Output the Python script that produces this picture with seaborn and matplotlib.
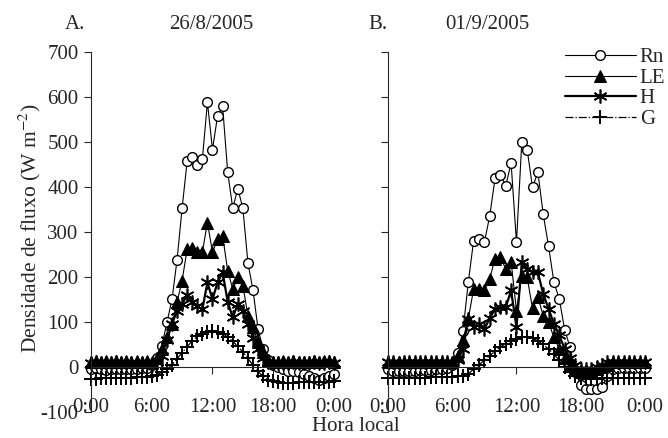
import numpy as np
import pandas as pd
import matplotlib
matplotlib.use("Agg")
import matplotlib.pyplot as plt
import seaborn as sns

# half-hourly time axis (hours)
hours = np.arange(0, 24.5, 0.5)
tick_hours = [0, 6, 12, 18, 24]
tick_labels = ["0:00", "6:00", "12:00", "18:00", "0:00"]

# A. 26/8/2005
rn_a = [-5, -3, -5, -6, -5, -4, -5, -5, -4, -5, -3, -2,
        5, 20, 47, 99, 150, 238, 353, 458, 466, 449, 462, 588, 483, 558, 579, 433, 353, 396, 353, 231, 171, 84, 41, 15, 5, 0,
        -5, -8, -10, -12, -15, -20, -25, -28, -25, -20, -15]
le_a = [12, 14, 12, 13, 12, 14, 12, 13, 12, 14, 12, 13,
        12, 20, 40, 66, 96, 144, 192, 262, 264, 255, 255, 321, 255, 284, 292, 214, 173, 199, 181, 114, 88, 55, 33, 15, 12, 12,
        13, 12, 14, 12, 10, 12, 14, 12, 13, 14, 12]
h_a = [8, 10, 8, 9, 8, 10, 8, 9, 8, 9, 8, 9,
       5, 10, 25, 60, 95, 125, 140, 160, 145, 135, 128, 188, 150, 188, 210, 145, 110, 140, 125, 95, 65, 40, 20, 10, 8, 9,
       9, 8, 10, 8, 9, 8, 10, 9, 8, 10, 9]
g_a = [-26, -26, -25, -25, -25, -24, -24, -24, -24, -23, -23, -22,
       -20, -17, -12, -5, 5, 18, 32, 45, 58, 68, 74, 78, 79, 78, 74, 67, 57, 46, 33, 19, 4, -10, -21, -28, -32, -34,
       -35, -35, -35, -34, -34, -34, -34, -33, -33, -33, -32]

# B. 01/9/2005
rn_b = [-5, -8, -10, -10, -8, -8, -7, -6, -6, -5, -5, -3,
        5, 30, 79, 188, 281, 284, 277, 335, 419, 427, 403, 453, 277, 501, 483, 399, 433, 339, 268, 188, 151, 83, 44, -12,
        -40, -48, -50, -48, -45, -20, -5,
        -3, -2, -3, -2, -3, -2]
le_b = [10, 12, 10, 11, 10, 12, 10, 11, 10, 12, 10, 11,
        10, 25, 60, 107, 173, 173, 170, 196, 241, 244, 218, 234, 125, 203, 199, 130, 155, 114, 99, 66, 40, 20, 3, -5, -10, -10,
        -8, -5, 0, 5, 10, 12, 10, 12, 11, 12, 10]
h_b = [10, 12, 9, 11, 10, 12, 10, 11, 10, 12, 10, 11,
       8, 15, 40, 107, 88, 96, 84, 108, 129, 133, 133, 170, 88, 233, 218, 212, 210, 162, 129, 96, 70, 40, 20, 5, -5, -5,
       -5, 0, 5, 10, 12, 10, 12, 11, 12, 10, 12]
g_b = [-25, -25, -25, -25, -24, -24, -24, -24, -23, -23, -23, -22,
       -22, -21, -20, -15, -5, 5, 15, 25, 35, 45, 52, 58, 63, 66, 66, 64, 58, 50, 40, 28, 15, 0, -12, -20, -25, -26,
       -26, -26, -25, -25, -25, -25, -24, -24, -24, -24, -24]

sns.set_style("ticks")
plt.rcParams["font.family"] = ["Liberation Serif", "DejaVu Serif"]
plt.rcParams["font.size"] = 15
plt.rcParams["mathtext.fontset"] = "stix"
plt.rcParams["axes.unicode_minus"] = False

# marker/line style per series
styles = {
    "Rn": dict(marker="o", markerfacecolor="white", markeredgecolor="black", markersize=7,
               markeredgewidth=1.0, linewidth=0.8, linestyle="-"),
    "LE": dict(marker="^", markerfacecolor="black", markeredgecolor="black", markersize=8,
               linewidth=0.8, linestyle="-"),
    "H": dict(marker=(6, 2, 0), markeredgecolor="black", markersize=10, markeredgewidth=1.2,
              linewidth=1.6, linestyle="-"),
    "G": dict(marker="+", markeredgecolor="black", markersize=10, markeredgewidth=1.4,
              linewidth=0.9, linestyle="-."),
}

fig = plt.figure(figsize=(6.68, 4.38), dpi=100)
ax1 = fig.add_axes([0.1362, 0.0594, 0.3638, 0.822])
ax2 = fig.add_axes([0.5808, 0.0594, 0.3847, 0.822])

panels = [(ax1, {"Rn": rn_a, "LE": le_a, "H": h_a, "G": g_a}),
          (ax2, {"Rn": rn_b, "LE": le_b, "H": h_b, "G": g_b})]

for ax, series in panels:
    for name, vals in series.items():
        df = pd.DataFrame({"hora": hours, "fluxo": vals})
        sns.lineplot(data=df, x="hora", y="fluxo", ax=ax, color="black", label=name,
                     clip_on=False, legend=False, **styles[name])
    ax.set_xlim(0, 24)
    ax.set_ylim(-100, 700)
    ax.set_yticks(range(-100, 701, 100))
    ax.set_xticks(tick_hours)
    ax.set_xticklabels(tick_labels)
    ax.spines["top"].set_visible(False)
    ax.spines["right"].set_visible(False)
    ax.spines["bottom"].set_position(("data", 0))
    ax.spines["left"].set_linewidth(0.8)
    ax.spines["bottom"].set_linewidth(0.8)
    ax.tick_params(axis="x", direction="out", length=5, width=0.8, pad=17)
    ax.tick_params(axis="y", direction="out", length=5, width=0.8, pad=4)
    ax.set_xlabel("")
    ax.set_ylabel("")

ax2.set_yticklabels([])

handles, labels = ax2.get_legend_handles_labels()
fig.legend(handles, labels, loc="upper left", bbox_to_anchor=(0.83, 0.915),
           frameon=False, handlelength=3.4, handletextpad=0.2, labelspacing=0.05,
           borderpad=0, fontsize=15)

fig.text(0.112, 0.943, "A.", ha="center", va="center", fontsize=15)
fig.text(0.316, 0.943, "26/8/2005", ha="center", va="center", fontsize=15)
fig.text(0.566, 0.943, "B.", ha="center", va="center", fontsize=15)
fig.text(0.729, 0.943, "01/9/2005", ha="center", va="center", fontsize=15)
fig.text(0.533, 0.026, "Hora local", ha="center", va="center", fontsize=15)
fig.text(0.045, 0.479, "Densidade de fluxo (W m$^{-2}$)", ha="center", va="center",
         rotation=90, fontsize=15.5)

fig.savefig("out.png", dpi=100)
